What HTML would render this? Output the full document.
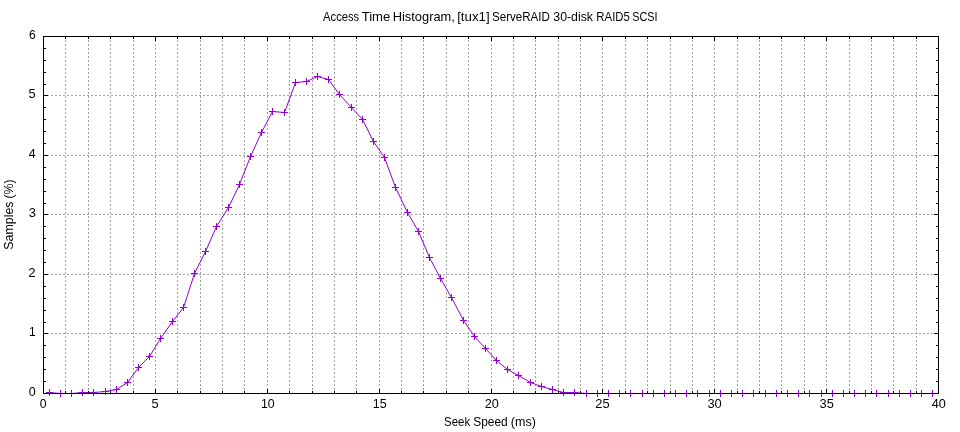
<!DOCTYPE html>
<html><head><meta charset="utf-8"><title>Access Time Histogram</title>
<style>html,body{margin:0;padding:0;background:#fff;}svg{display:block;will-change:transform;}text{font-family:"Liberation Sans",sans-serif;font-size:12.7px;fill:#000;}</style></head><body>
<svg width="960" height="432" viewBox="0 0 960 432">
<rect x="0" y="0" width="960" height="432" fill="#fff"/>
<g stroke="#a0a0a0" stroke-width="1" stroke-dasharray="2 2" fill="none">
<path d="M65.5 36.0V394.0"/>
<path d="M88.5 36.0V394.0"/>
<path d="M110.5 36.0V394.0"/>
<path d="M133.5 36.0V394.0"/>
<path d="M155.5 36.0V394.0"/>
<path d="M177.5 36.0V394.0"/>
<path d="M200.5 36.0V394.0"/>
<path d="M222.5 36.0V394.0"/>
<path d="M244.5 36.0V394.0"/>
<path d="M267.5 36.0V394.0"/>
<path d="M289.5 36.0V394.0"/>
<path d="M312.5 36.0V394.0"/>
<path d="M334.5 36.0V394.0"/>
<path d="M356.5 36.0V394.0"/>
<path d="M379.5 36.0V394.0"/>
<path d="M401.5 36.0V394.0"/>
<path d="M423.5 36.0V394.0"/>
<path d="M446.5 36.0V394.0"/>
<path d="M468.5 36.0V394.0"/>
<path d="M491.5 36.0V394.0"/>
<path d="M513.5 36.0V394.0"/>
<path d="M535.5 36.0V394.0"/>
<path d="M558.5 36.0V394.0"/>
<path d="M580.5 36.0V394.0"/>
<path d="M602.5 36.0V394.0"/>
<path d="M625.5 36.0V394.0"/>
<path d="M647.5 36.0V394.0"/>
<path d="M670.5 36.0V394.0"/>
<path d="M692.5 36.0V394.0"/>
<path d="M714.5 36.0V394.0"/>
<path d="M737.5 36.0V394.0"/>
<path d="M759.5 36.0V394.0"/>
<path d="M781.5 36.0V394.0"/>
<path d="M804.5 36.0V394.0"/>
<path d="M826.5 36.0V394.0"/>
<path d="M849.5 36.0V394.0"/>
<path d="M871.5 36.0V394.0"/>
<path d="M893.5 36.0V394.0"/>
<path d="M916.5 36.0V394.0"/>
<path d="M43.0 333.5H939.0"/>
<path d="M43.0 274.5H939.0"/>
<path d="M43.0 214.5H939.0"/>
<path d="M43.0 155.5H939.0"/>
<path d="M43.0 95.5H939.0"/>
</g>
<polyline fill="none" stroke="#9400d3" stroke-width="1" stroke-linejoin="round" points="49.5,392.5 60.5,393.5 71.5,393.5 82.5,392.5 93.5,392.5 105.5,391.5 116.5,389.5 127.5,382.5 138.5,367.5 149.5,356.5 160.5,338.5 172.5,321.5 183.5,307.5 194.5,273.5 205.5,251.5 216.5,226.5 228.5,207.5 239.5,184.5 250.5,156.5 261.5,132.5 272.5,111.5 284.5,112.5 295.5,82.5 306.5,81.5 317.5,76.5 328.5,79.5 339.5,94.5 351.5,107.5 362.5,119.5 373.5,141.5 384.5,157.5 395.5,187.5 407.5,212.5 418.5,231.5 429.5,257.5 440.5,278.5 451.5,297.5 463.5,320.5 474.5,336.5 485.5,348.5 496.5,360.5 507.5,369.5 518.5,375.5 530.5,382.5 541.5,386.5 552.5,389.5 563.5,392.5 574.5,392.5 586.5,393.5 597.5,393.5 608.5,393.5 619.5,393.5 630.5,393.5 642.5,393.5 653.5,393.5 664.5,393.5 675.5,393.5 686.5,393.5 697.5,393.5 709.5,393.5 720.5,393.5 731.5,393.5 742.5,393.5 753.5,393.5 765.5,393.5 776.5,393.5 787.5,393.5 798.5,393.5 809.5,393.5 821.5,393.5 832.5,393.5 843.5,393.5 854.5,393.5 865.5,393.5 876.5,393.5 888.5,393.5 899.5,393.5 910.5,393.5 921.5,393.5 932.5,393.5"/>
<path d="M46.0 392.5h7M49.5 389.0v7M57.0 393.5h7M60.5 390.0v7M68.0 393.5h7M71.5 390.0v7M79.0 392.5h7M82.5 389.0v7M90.0 392.5h7M93.5 389.0v7M102.0 391.5h7M105.5 388.0v7M113.0 389.5h7M116.5 386.0v7M124.0 382.5h7M127.5 379.0v7M135.0 367.5h7M138.5 364.0v7M146.0 356.5h7M149.5 353.0v7M157.0 338.5h7M160.5 335.0v7M169.0 321.5h7M172.5 318.0v7M180.0 307.5h7M183.5 304.0v7M191.0 273.5h7M194.5 270.0v7M202.0 251.5h7M205.5 248.0v7M213.0 226.5h7M216.5 223.0v7M225.0 207.5h7M228.5 204.0v7M236.0 184.5h7M239.5 181.0v7M247.0 156.5h7M250.5 153.0v7M258.0 132.5h7M261.5 129.0v7M269.0 111.5h7M272.5 108.0v7M281.0 112.5h7M284.5 109.0v7M292.0 82.5h7M295.5 79.0v7M303.0 81.5h7M306.5 78.0v7M314.0 76.5h7M317.5 73.0v7M325.0 79.5h7M328.5 76.0v7M336.0 94.5h7M339.5 91.0v7M348.0 107.5h7M351.5 104.0v7M359.0 119.5h7M362.5 116.0v7M370.0 141.5h7M373.5 138.0v7M381.0 157.5h7M384.5 154.0v7M392.0 187.5h7M395.5 184.0v7M404.0 212.5h7M407.5 209.0v7M415.0 231.5h7M418.5 228.0v7M426.0 257.5h7M429.5 254.0v7M437.0 278.5h7M440.5 275.0v7M448.0 297.5h7M451.5 294.0v7M460.0 320.5h7M463.5 317.0v7M471.0 336.5h7M474.5 333.0v7M482.0 348.5h7M485.5 345.0v7M493.0 360.5h7M496.5 357.0v7M504.0 369.5h7M507.5 366.0v7M515.0 375.5h7M518.5 372.0v7M527.0 382.5h7M530.5 379.0v7M538.0 386.5h7M541.5 383.0v7M549.0 389.5h7M552.5 386.0v7M560.0 392.5h7M563.5 389.0v7M571.0 392.5h7M574.5 389.0v7M583.0 393.5h7M586.5 390.0v7M594.0 393.5h7M597.5 390.0v7M605.0 393.5h7M608.5 390.0v7M616.0 393.5h7M619.5 390.0v7M627.0 393.5h7M630.5 390.0v7M639.0 393.5h7M642.5 390.0v7M650.0 393.5h7M653.5 390.0v7M661.0 393.5h7M664.5 390.0v7M672.0 393.5h7M675.5 390.0v7M683.0 393.5h7M686.5 390.0v7M694.0 393.5h7M697.5 390.0v7M706.0 393.5h7M709.5 390.0v7M717.0 393.5h7M720.5 390.0v7M728.0 393.5h7M731.5 390.0v7M739.0 393.5h7M742.5 390.0v7M750.0 393.5h7M753.5 390.0v7M762.0 393.5h7M765.5 390.0v7M773.0 393.5h7M776.5 390.0v7M784.0 393.5h7M787.5 390.0v7M795.0 393.5h7M798.5 390.0v7M806.0 393.5h7M809.5 390.0v7M818.0 393.5h7M821.5 390.0v7M829.0 393.5h7M832.5 390.0v7M840.0 393.5h7M843.5 390.0v7M851.0 393.5h7M854.5 390.0v7M862.0 393.5h7M865.5 390.0v7M873.0 393.5h7M876.5 390.0v7M885.0 393.5h7M888.5 390.0v7M896.0 393.5h7M899.5 390.0v7M907.0 393.5h7M910.5 390.0v7M918.0 393.5h7M921.5 390.0v7M929.0 393.5h7M932.5 390.0v7" stroke="#9400d3" stroke-width="1" fill="none"/>
<g stroke="#000" stroke-width="1" fill="none">
<path d="M43.5 393.5v-4.5M43.5 36.5v4.5M65.5 393.5v-2.5M65.5 36.5v2.5M88.5 393.5v-2.5M88.5 36.5v2.5M110.5 393.5v-2.5M110.5 36.5v2.5M133.5 393.5v-2.5M133.5 36.5v2.5M155.5 393.5v-4.5M155.5 36.5v4.5M177.5 393.5v-2.5M177.5 36.5v2.5M200.5 393.5v-2.5M200.5 36.5v2.5M222.5 393.5v-2.5M222.5 36.5v2.5M244.5 393.5v-2.5M244.5 36.5v2.5M267.5 393.5v-4.5M267.5 36.5v4.5M289.5 393.5v-2.5M289.5 36.5v2.5M312.5 393.5v-2.5M312.5 36.5v2.5M334.5 393.5v-2.5M334.5 36.5v2.5M356.5 393.5v-2.5M356.5 36.5v2.5M379.5 393.5v-4.5M379.5 36.5v4.5M401.5 393.5v-2.5M401.5 36.5v2.5M423.5 393.5v-2.5M423.5 36.5v2.5M446.5 393.5v-2.5M446.5 36.5v2.5M468.5 393.5v-2.5M468.5 36.5v2.5M491.5 393.5v-4.5M491.5 36.5v4.5M513.5 393.5v-2.5M513.5 36.5v2.5M535.5 393.5v-2.5M535.5 36.5v2.5M558.5 393.5v-2.5M558.5 36.5v2.5M580.5 393.5v-2.5M580.5 36.5v2.5M602.5 393.5v-4.5M602.5 36.5v4.5M625.5 393.5v-2.5M625.5 36.5v2.5M647.5 393.5v-2.5M647.5 36.5v2.5M670.5 393.5v-2.5M670.5 36.5v2.5M692.5 393.5v-2.5M692.5 36.5v2.5M714.5 393.5v-4.5M714.5 36.5v4.5M737.5 393.5v-2.5M737.5 36.5v2.5M759.5 393.5v-2.5M759.5 36.5v2.5M781.5 393.5v-2.5M781.5 36.5v2.5M804.5 393.5v-2.5M804.5 36.5v2.5M826.5 393.5v-4.5M826.5 36.5v4.5M849.5 393.5v-2.5M849.5 36.5v2.5M871.5 393.5v-2.5M871.5 36.5v2.5M893.5 393.5v-2.5M893.5 36.5v2.5M916.5 393.5v-2.5M916.5 36.5v2.5M938.5 393.5v-4.5M938.5 36.5v4.5M43.5 393.5h4.5M938.5 393.5h-4.5M43.5 381.5h2.5M938.5 381.5h-2.5M43.5 369.5h2.5M938.5 369.5h-2.5M43.5 357.5h2.5M938.5 357.5h-2.5M43.5 345.5h2.5M938.5 345.5h-2.5M43.5 333.5h4.5M938.5 333.5h-4.5M43.5 322.5h2.5M938.5 322.5h-2.5M43.5 310.5h2.5M938.5 310.5h-2.5M43.5 298.5h2.5M938.5 298.5h-2.5M43.5 286.5h2.5M938.5 286.5h-2.5M43.5 274.5h4.5M938.5 274.5h-4.5M43.5 262.5h2.5M938.5 262.5h-2.5M43.5 250.5h2.5M938.5 250.5h-2.5M43.5 238.5h2.5M938.5 238.5h-2.5M43.5 226.5h2.5M938.5 226.5h-2.5M43.5 214.5h4.5M938.5 214.5h-4.5M43.5 203.5h2.5M938.5 203.5h-2.5M43.5 191.5h2.5M938.5 191.5h-2.5M43.5 179.5h2.5M938.5 179.5h-2.5M43.5 167.5h2.5M938.5 167.5h-2.5M43.5 155.5h4.5M938.5 155.5h-4.5M43.5 143.5h2.5M938.5 143.5h-2.5M43.5 131.5h2.5M938.5 131.5h-2.5M43.5 119.5h2.5M938.5 119.5h-2.5M43.5 107.5h2.5M938.5 107.5h-2.5M43.5 95.5h4.5M938.5 95.5h-4.5M43.5 84.5h2.5M938.5 84.5h-2.5M43.5 72.5h2.5M938.5 72.5h-2.5M43.5 60.5h2.5M938.5 60.5h-2.5M43.5 48.5h2.5M938.5 48.5h-2.5M43.5 36.5h4.5M938.5 36.5h-4.5"/>
<rect x="43.5" y="36.5" width="895.0" height="357.0"/>
</g>
<text transform="translate(28.76,396.00) scale(0.9903,1)">0</text>
<text transform="translate(28.90,336.00) scale(0.9413,1)">1</text>
<text transform="translate(28.34,277.00) scale(1.0442,1)">2</text>
<text transform="translate(28.65,217.00) scale(1.0171,1)">3</text>
<text transform="translate(28.75,158.00) scale(0.9727,1)">4</text>
<text transform="translate(28.49,98.00) scale(1.0112,1)">5</text>
<text transform="translate(28.99,39.00) scale(0.9567,1)">6</text>
<text transform="translate(39.87,408.00) scale(0.9660,1)">0</text>
<text transform="translate(151.59,408.00) scale(1.0112,1)">5</text>
<text transform="translate(260.98,408.00) scale(0.9674,1)">10</text>
<text transform="translate(372.86,408.00) scale(0.9841,1)">15</text>
<text transform="translate(484.67,408.00) scale(0.9975,1)">20</text>
<text transform="translate(595.35,408.00) scale(1.0178,1)">25</text>
<text transform="translate(707.45,408.00) scale(1.0134,1)">30</text>
<text transform="translate(819.51,408.00) scale(1.0137,1)">35</text>
<text transform="translate(931.71,408.00) scale(0.9945,1)">40</text>
<text transform="translate(323.10,21.00) scale(0.8805,1)">Access</text>
<text transform="translate(361.64,21.00) scale(1.0325,1)">Time</text>
<text transform="translate(392.72,21.00) scale(1.0124,1)">Histogram,</text>
<text transform="translate(457.17,21.00) scale(1.0457,1)">[tux1]</text>
<text transform="translate(491.98,21.00) scale(0.9126,1)">ServeRAID</text>
<text transform="translate(553.32,21.00) scale(0.9702,1)">30-disk</text>
<text transform="translate(596.34,21.00) scale(0.8964,1)">RAID5</text>
<text transform="translate(632.26,21.00) scale(0.8496,1)">SCSI</text>
<text transform="translate(444.09,425.80) scale(0.8984,1)">Seek</text>
<text transform="translate(473.26,425.80) scale(0.9385,1)">Speed</text>
<text transform="translate(510.85,425.80) scale(0.9837,1)">(ms)</text>
<g transform="translate(13,249.1) rotate(-90)">
<text transform="translate(-0.56,0.00) scale(0.9753,1)">Samples</text>
<text transform="translate(50.51,0.00) scale(0.9725,1)">(%)</text>
</g>
</svg></body></html>
